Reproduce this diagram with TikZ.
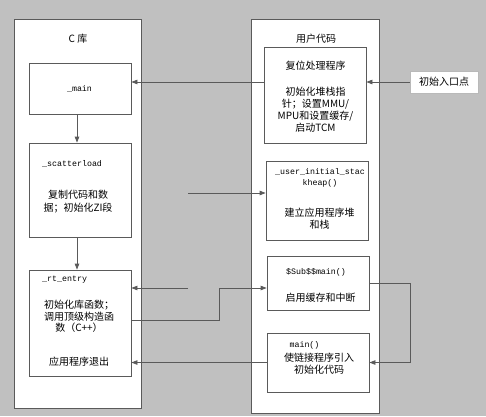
\documentclass[tikz,border=0pt]{standalone}
\usepackage{fontspec}
\usepackage{xcolor}
\newfontfamily\cjk{Noto Sans CJK SC}
\newfontfamily\codefont{Liberation Mono}
\usetikzlibrary{positioning, arrows.meta, calc}
\definecolor{bggray}{RGB}{192,192,192}
\definecolor{linegray}{RGB}{90,90,90}

\begin{document}
\begin{tikzpicture}[
    x=1pt, y=-1pt,
    >={Triangle[length=6pt, width=4.5pt]},
    panel/.style ={draw=linegray, fill=white, line width=0.9pt, inner sep=0pt},
    box/.style   ={draw=linegray, fill=white, line width=0.8pt, inner sep=0pt, minimum width=102pt},
    txt/.style   ={font=\cjk\fontsize{10}{12.2}\selectfont, align=center, inner sep=0pt, text=black},
    code/.style  ={font=\codefont\fontsize{8.3}{11}\selectfont, inner sep=0pt, text=black},
    link/.style  ={draw=linegray, line width=0.8pt},
]

\fill[bggray] (0,0) rectangle (486,416);
\useasboundingbox (0,0) rectangle (486,416);

% Panels
\node[panel, minimum width=127pt, minimum height=389pt] (clib) at (77.5,213.5) {};
\node[panel, minimum width=128pt, minimum height=394pt] (user) at (315,216) {};
\node[txt] (clibt) at (78,39)  {C 库};
\node[txt] (usert) at (316,39) {用户代码};

% C library side
\node[box, minimum height=51pt]  (mainb) at (80,88.5) {};
\node[box, minimum height=94pt]  (scat)  at (80,190)  {};
\node[box, minimum height=106pt] (rt)    at (80,323)  {};

\node[code] (mainbt) at (79.5,89) {\_main};
\node[code, anchor=west] (scatt) at (42,164) {\_scatterload};
\node[txt, font=\cjk\fontsize{10}{13}\selectfont] (scatd) at (78,201.5) {复制代码和数\\据；初始化ZI段};
\node[code, anchor=west] (rtt) at (42,280) {\_rt\_entry};
\node[txt, font=\cjk\fontsize{10}{11.6}\selectfont] (rtd) at (79,316.5) {初始化库函数；\\调用顶级构造函\\数（C++）};
\node[txt] (rtx) at (79,362) {应用程序退出};

% User code side
\node[box, minimum height=96pt] (reset)   at (315,95)    {};
\node[box, minimum height=79pt] (stack)   at (317,200.5) {};
\node[box, minimum height=54pt] (submain) at (318,283)   {};
\node[box, minimum height=59pt] (umain)   at (318,362.5) {};

\node[txt] (resett) at (315.5,66) {复位处理程序};
\node[txt] (resetd) at (315.5,109.5) {初始化堆栈指\\针；设置MMU/\\MPU和设置缓存/\\启动TCM};
\node[code, align=center] (stackt) at (320,177.5) {\_user\_initial\_stac\\kheap()};
\node[txt] (stackd) at (319.5,219) {建立应用程序堆\\和栈};
\node[code] (submaint) at (316,272) {\$Sub\$\$main()};
\node[txt] (submaind) at (320.5,298) {启用缓存和中断};
\node[code] (umaint) at (304.5,345) {main()};
\node[txt] (umaind) at (319,363.5) {使链接程序引入\\初始化代码};

% Entry point
\node[draw=gray!55, fill=white, inner sep=0pt, minimum width=68pt, minimum height=22pt] (entry) at (444,82) {};
\node[txt] (entryt) at (444,82) {初始入口点};

% Connectors
\coordinate (s1) at (188,193);
\coordinate (s2) at (188,288);

\draw[link, ->] (entry.west) -- (entry.west -| reset.east);
\draw[link, ->] (reset.west |- entry.west) -- (mainb.east |- entry.west);
\draw[link, ->] ($(mainb.south)+(-3,0)$) -- ($(scat.north)+(-3,0)$);
\draw[link, ->] ($(scat.south)+(-3,0)$) -- ($(rt.north)+(-3,0)$);
\draw[link, ->] (s1) -- (s1 -| stack.west);
\draw[link, ->] (s2) -- (s2 -| rt.east);
\draw[link, ->] ($(rt.east)+(0,-3)$) -- ++(88,0) |- ($(submain.west)+(0,5)$);
\draw[link, ->] (submain.east) -- ++(41,0) |- (umain.east);
\draw[link, ->] (umain.west) -- (umain.west -| rt.east);

\end{tikzpicture}
\end{document}
